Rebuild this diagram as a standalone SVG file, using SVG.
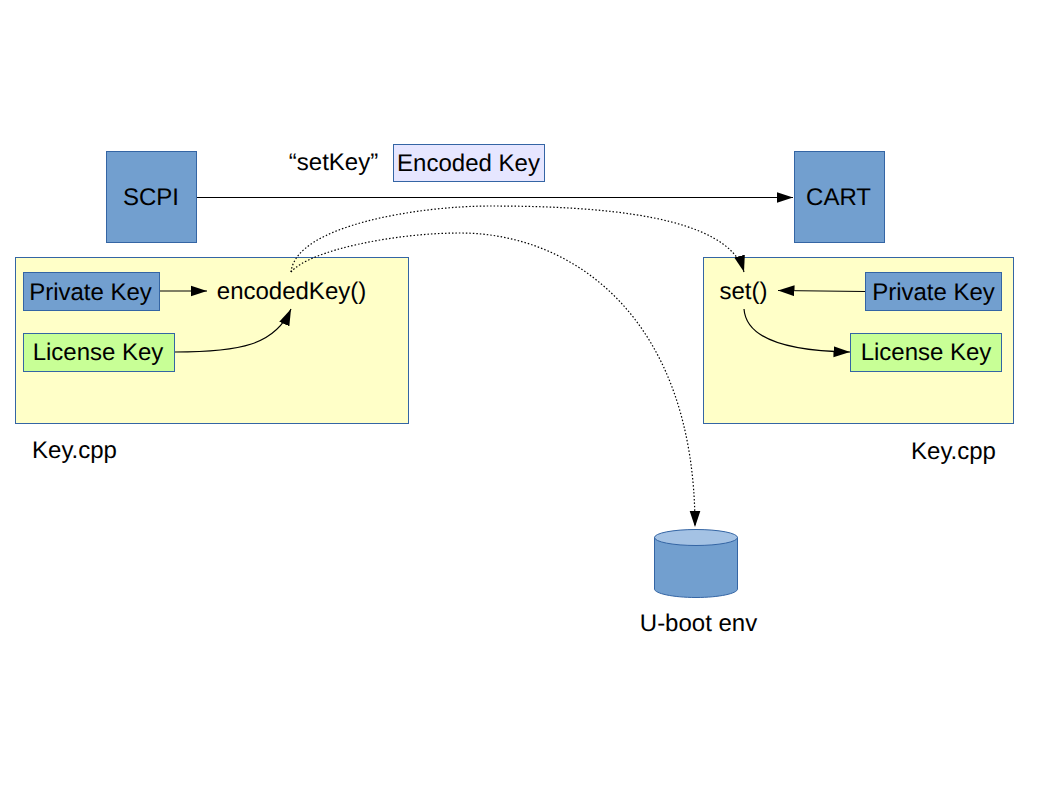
<svg xmlns="http://www.w3.org/2000/svg" width="1058" height="794" viewBox="0 0 1058 794">
<style>
text{font-family:"Liberation Sans",Arial,sans-serif;font-size:24px;fill:#000;text-anchor:middle;text-rendering:geometricPrecision}
.b{fill:#729fcf;stroke:#3465a4;stroke-width:1}
.y{fill:#ffffc8;stroke:#3465a4;stroke-width:1}
.g{fill:#c8ff96;stroke:#3465a4;stroke-width:1}
.e{fill:#e6e6ff;stroke:#3465a4;stroke-width:1}
.c{fill:none;stroke:#000;stroke-width:1.2}
.d{fill:none;stroke:#000;stroke-width:1.2;stroke-dasharray:1.5 2}
</style>
<defs>
<marker id="a" markerUnits="userSpaceOnUse" markerWidth="17" markerHeight="12" refX="16.500" refY="6" orient="auto"><path d="M0 0.500L16.500 6L0 11.500Z" fill="#000"/></marker>
</defs>
<rect width="1058" height="794" fill="#fff"/>
<g id="left-file"><rect class="y" x="15.500" y="257.500" width="393" height="166"/><text x="74.500" y="458">Key.cpp</text></g>
<g id="right-file"><rect class="y" x="703.500" y="257.500" width="310" height="166"/><text x="953.500" y="459">Key.cpp</text></g>
<g id="scpi"><rect class="b" x="106.500" y="151.500" width="90" height="91"/><text x="151" y="205">SCPI</text></g>
<g id="cart"><rect class="b" x="794.500" y="151.500" width="90" height="91"/><text x="838.500" y="205">CART</text></g>
<g id="setkey"><text x="333.500" y="170">“setKey”</text></g>
<g id="encoded-key"><rect class="e" x="393.500" y="144.500" width="151" height="37"/><text x="468.500" y="171">Encoded Key</text></g>
<g id="private-key-left"><rect class="b" x="23.500" y="272.500" width="136" height="38"/><text x="90.500" y="300">Private Key</text></g>
<g id="license-key-left"><rect class="g" x="23.500" y="333.500" width="151" height="38"/><text x="98" y="360">License Key</text></g>
<g id="encodedkey"><text x="291.500" y="299">encodedKey()</text></g>
<g id="set"><text x="743.500" y="299">set()</text></g>
<g id="private-key-right"><rect class="b" x="865.500" y="272.500" width="136" height="38"/><text x="933.500" y="300">Private Key</text></g>
<g id="license-key-right"><rect class="g" x="850.500" y="333.500" width="151" height="38"/><text x="926" y="360">License Key</text></g>
<g id="uboot"><path class="b" d="M654.500 537.500V589C654.500 593.500 673 597.500 696 597.500S737.500 593.500 737.500 589V537.500Z"/><ellipse cx="696" cy="537.500" rx="41.500" ry="8" fill="#a4c2e4" stroke="#3465a4"/><text x="698.500" y="631">U-boot env</text></g>
<g id="connectors">
<path class="c" d="M197 197.500H793" marker-end="url(#a)"/>
<path class="c" d="M160 291H207" marker-end="url(#a)"/>
<path class="c" d="M175 352C240 352 275 345 291 309" marker-end="url(#a)"/>
<path class="c" d="M865 291.500L778 290.500" marker-end="url(#a)"/>
<path class="c" d="M744 309C746 336 780 351 850 352" marker-end="url(#a)"/>
<path class="d" d="M291 272C296 225 420 206 490 206C600 206 728 215 744 272" marker-end="url(#a)"/>
<path class="d" d="M291 272C310 250 395 233 460 233C575 233 695 320 695 527" marker-end="url(#a)"/>
</g>
</svg>
